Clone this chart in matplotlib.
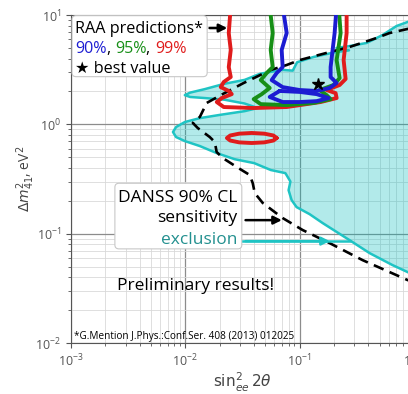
import matplotlib
matplotlib.use('Agg')
import matplotlib.pyplot as plt
from matplotlib.patches import FancyBboxPatch

plt.rcParams['font.family'] = ['Open Sans', 'DejaVu Sans']
plt.rcParams['mathtext.fontset'] = 'dejavusans'

# DANSS 90% CL exclusion region boundary (sin^2 2theta, dm^2)
excl_x = [1.0, 0.877, 0.703, 0.531, 0.385, 0.273, 0.21, 0.27, 0.2, 0.132, 0.095, 0.087,
          0.07, 0.045, 0.033, 0.022, 0.0148, 0.011, 0.0099, 0.011, 0.0148, 0.022, 0.033,
          0.043, 0.033, 0.02, 0.0134, 0.0099, 0.0083, 0.0078, 0.0083, 0.0099, 0.0134,
          0.0188, 0.027, 0.040, 0.056, 0.075, 0.083, 0.080, 0.085, 0.094, 0.122, 0.159,
          0.273, 0.409, 0.649, 0.877, 1.0]
excl_y = [9.0, 8.63, 7.93, 6.56, 5.55, 5.2, 5.0, 4.75, 4.55, 4.13, 3.7, 3.1,
          3.15, 2.9, 2.55, 2.35, 2.1, 1.95, 1.85, 1.78, 1.74, 1.68, 1.55,
          1.41, 1.32, 1.22, 1.14, 1.05, 0.945, 0.851, 0.765, 0.703, 0.633,
          0.546, 0.48, 0.442, 0.382, 0.358, 0.30, 0.25, 0.203, 0.175, 0.151, 0.125,
          0.0873, 0.0664, 0.0516, 0.0446, 0.0418]

# DANSS 90% CL sensitivity
sens_x = [1.0, 0.877, 0.611, 0.470, 0.273, 0.183, 0.1, 0.077, 0.0558, 0.0324, 0.0204,
          0.0154, 0.0134, 0.01163, 0.01285, 0.01637, 0.0181, 0.0188, 0.02126, 0.02818,
          0.0366, 0.03886, 0.0405, 0.04752, 0.071, 0.1062, 0.1828, 0.355, 0.877, 1.0]
sens_y = [7.6, 7.45, 6.84, 6.16, 5.10, 4.58, 3.87, 3.49, 3.14, 2.39, 1.85,
          1.57, 1.17, 1.03, 0.925, 0.765, 0.689, 0.558, 0.492, 0.407,
          0.344, 0.290, 0.235, 0.191, 0.139, 0.108, 0.082, 0.0573, 0.0377, 0.036]

# RAA allowed regions
raa99_x = [0.02496, 0.02398, 0.02496, 0.02398, 0.02496, 0.02168, 0.0204, 0.02398, 0.02547,
           0.02084, 0.01884, 0.02168, 0.03964, 0.07695, 0.1526, 0.2105, 0.2063, 0.1721,
           0.2236, 0.2523, 0.2424, 0.2575, 0.2575]
raa99_y = [12, 6.84, 4.79, 3.34, 2.71, 2.44, 2.19, 2.02, 1.89,
           1.74, 1.60, 1.44, 1.41, 1.44, 1.60, 1.74, 1.93, 2.06,
           2.29, 2.60, 3.87, 6.84, 12]
raa99_island_x = [0.0630, 0.0589, 0.0490, 0.0381, 0.0296, 0.0247, 0.0231, 0.0247, 0.0296,
                  0.0381, 0.0490, 0.0589, 0.0630]
raa99_island_y = [0.75, 0.791, 0.822, 0.834, 0.822, 0.791, 0.75, 0.711, 0.684,
                  0.675, 0.684, 0.711, 0.75]

raa95_x = [0.0547, 0.0581, 0.0558, 0.0581, 0.0515, 0.0457, 0.0547, 0.0466, 0.0396, 0.0457,
           0.0770, 0.1325, 0.1865, 0.1721, 0.1495, 0.1981, 0.2236, 0.2105, 0.2282, 0.2192]
raa95_y = [12, 6.84, 4.79, 3.34, 2.95, 2.54, 2.15, 1.89, 1.70, 1.53,
           1.50, 1.57, 1.70, 1.85, 2.06, 2.29, 2.65, 3.87, 6.84, 12]

raa90_x = [0.0710, 0.0770, 0.0696, 0.0710, 0.0630, 0.0569, 0.0710, 0.1, 0.1408, 0.1828,
           0.2105, 0.1865, 0.1865, 0.1942, 0.2022, 0.2105]
raa90_y = [12, 6.84, 4.79, 3.34, 2.95, 2.54, 2.19, 2.06, 2.02, 2.15,
           2.39, 2.71, 3.34, 4.79, 6.84, 12]
raa90_loop_x = [0.0669, 0.0547, 0.0710, 0.1, 0.1408, 0.1791, 0.1408, 0.1, 0.0669]
raa90_loop_y = [2.02, 1.78, 1.60, 1.60, 1.63, 1.74, 1.89, 1.98, 2.02]

best_x, best_y = 0.1436, 2.34

RED, GREEN, BLUE = '#e01c1c', '#178f17', '#1c1cd2'
CYAN = '#1fc4c4'
TEAL = '#23908f'

fig = plt.figure(figsize=(4.08, 3.94), dpi=100)
ax = fig.add_axes([0.174, 0.1294, 0.8407, 0.8325])
ax.set_xscale('log')
ax.set_yscale('log')
ax.set_xlim(1e-3, 1)
ax.set_ylim(1e-2, 10)

ax.grid(True, which='major', color='#8c8c8c', lw=0.9, zorder=0)
ax.grid(True, which='minor', color='#d9d9d9', lw=0.6, zorder=0)
ax.set_axisbelow(True)
for s in ax.spines.values():
    s.set_color('#555555')
ax.tick_params(which='both', colors='#555555', labelsize=9, direction='out')

# exclusion area
ax.fill(excl_x + [1.0], excl_y + [9.0], color='#00bcbc', alpha=0.3, lw=0, zorder=1)
ax.plot(excl_x, excl_y, color=CYAN, lw=1.8, zorder=3)

ax.plot(sens_x, sens_y, color='black', lw=1.9, ls=(0, (4, 2.5)), zorder=4)

kw = dict(lw=2.8, solid_joinstyle='round', solid_capstyle='round', zorder=5)
ax.plot(raa99_x, raa99_y, color=RED, **kw)
ax.plot(raa99_island_x, raa99_island_y, color=RED, **kw)
ax.plot(raa95_x, raa95_y, color=GREEN, **kw)
ax.plot(raa90_x, raa90_y, color=BLUE, **kw)
ax.plot(raa90_loop_x, raa90_loop_y, color=BLUE, **kw)
ax.plot([best_x], [best_y], marker='*', color='black', ms=9, ls='none', zorder=6)

ax.set_xlabel(r'$\sin^2_{ee}2\theta$', fontsize=11, color='#444444', labelpad=1)
ax.set_ylabel(r'$\Delta m^2_{41}$, eV$^2$', fontsize=10, color='#444444', labelpad=-1)

# legend box for RAA
ax.add_patch(FancyBboxPatch((0.003, 0.812), 0.394, 0.186,
                            boxstyle='round,pad=0,rounding_size=0.012',
                            transform=ax.transAxes, fc='white', ec='#c8c8c8',
                            lw=0.8, zorder=8))
fs = 12.5
fs1 = 11.6
ax.text(0.012, 0.945, 'RAA predictions*', transform=ax.transAxes, fontsize=fs1,
        va='baseline', zorder=9)
prev = ax.text(0.012, 0.884, '90%', transform=ax.transAxes, fontsize=fs1,
               color=BLUE, va='baseline', zorder=9)
for piece, col in [(', ', 'black'), ('95%', GREEN), (', ', 'black'), ('99%', RED)]:
    prev = ax.annotate(piece, xy=(1, 0), xycoords=prev, va='bottom', ha='left',
                       fontsize=fs1, color=col, zorder=9)
ax.text(0.012, 0.823, '\u2605 best value', transform=ax.transAxes, fontsize=fs1,
        va='baseline', zorder=9)
ax.annotate('', xy=(0.0246, 7.6), xytext=(0.0154, 7.6),
            arrowprops=dict(arrowstyle='-|>', color='black', lw=1.8,
                            mutation_scale=12), zorder=9)

# DANSS box
ax.add_patch(FancyBboxPatch((0.128, 0.287), 0.37, 0.2,
                            boxstyle='round,pad=0,rounding_size=0.012',
                            transform=ax.transAxes, fc='white', ec='#c8c8c8',
                            lw=0.8, zorder=8))
ax.text(0.485, 0.431, 'DANSS 90% CL', transform=ax.transAxes, fontsize=fs,
        ha='right', va='baseline', zorder=9)
ax.text(0.485, 0.369, 'sensitivity', transform=ax.transAxes, fontsize=fs,
        ha='right', va='baseline', zorder=9)
ax.text(0.485, 0.302, 'exclusion', transform=ax.transAxes, fontsize=fs,
        color=TEAL, ha='right', va='baseline', zorder=9)
ax.annotate('', xy=(0.0739, 0.133), xytext=(0.0318, 0.133),
            arrowprops=dict(arrowstyle='-|>', color='black', lw=1.8,
                            mutation_scale=12), zorder=9)
ax.plot([0.0318, 0.2734], [0.0855, 0.0855], color=CYAN, lw=1.8, zorder=9)
ax.annotate('', xy=(0.1942, 0.0855), xytext=(0.0318, 0.0855),
            arrowprops=dict(arrowstyle='-|>', color=CYAN, lw=1.8,
                            mutation_scale=12), zorder=9)

ax.text(0.134, 0.162, 'Preliminary results!', transform=ax.transAxes, fontsize=fs,
        va='baseline', zorder=9)
ax.text(0.009, 0.012, '*G.Mention J.Phys.:Conf.Ser. 408 (2013) 012025',
        transform=ax.transAxes, fontsize=7.2, va='baseline', zorder=9)

fig.savefig('out.png', dpi=100)
